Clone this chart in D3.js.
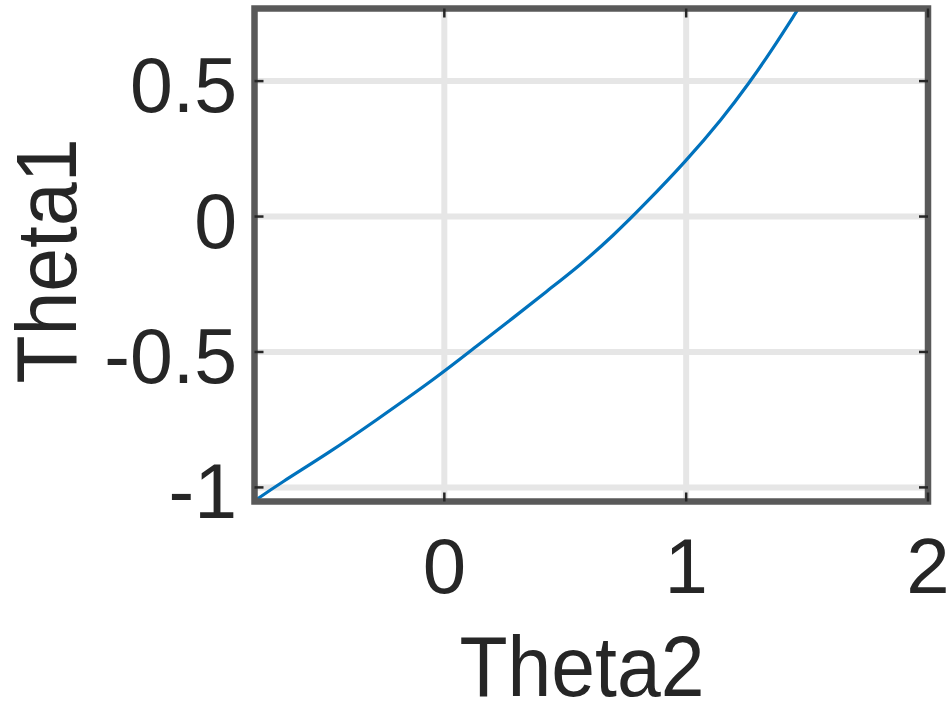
<!DOCTYPE html>
<html lang="en">
<head>
    <meta charset="UTF-8">
    <title>Theta1 vs Theta2</title>
    <style>
        body {
            margin: 0;
            background: white;
        }
        #chart text {
            font-family: "Liberation Sans", Arial, Helvetica, sans-serif;
            fill: #262626;
        }
    </style>
</head>
<body>
<div id="chart"></div>
<script src="https://cdn.jsdelivr.net/npm/d3@7"></script>
<script>
    // curve
    var theta2 = [-0.785, -0.68, -0.47, -0.29, -0.031, 0.134, 0.285, 0.423, 0.561, 0.699, 0.823, 1.0, 1.15, 1.26, 1.36, 1.46];
    var theta1 = [-1.05, -0.985, -0.868, -0.757, -0.594, -0.478, -0.374, -0.276, -0.18, -0.07, 0.04, 0.205, 0.362, 0.492, 0.622, 0.762];
    var xTicks = [0, 1, 2];
    var yTicks = [-1, -0.5, 0, 0.5];
    var xDomain = [-0.785, 2];
    var yDomain = [-1.052, 0.768];

    var width = 947, height = 704;
    // plot box (window.top is reserved, so no "top" here)
    var boxL = 254.5, boxR = 928, boxT = 8.5, boxB = 501.5;

    var svg = d3.select("#chart").append("svg")
        .attr("width", width).attr("height", height);

    var x = d3.scaleLinear().domain(xDomain).range([boxL, boxR]);
    var y = d3.scaleLinear().domain(yDomain).range([boxB, boxT]);

    // grid
    svg.append("g").selectAll("line")
        .data(xTicks.filter(function (t) { return x(t) < boxR - 2; }))
        .enter().append("line")
        .attr("x1", function (d) { return x(d); }).attr("x2", function (d) { return x(d); })
        .attr("y1", boxT).attr("y2", boxB)
        .style("stroke", "#e6e6e6").style("stroke-width", 6);
    svg.append("g").selectAll("line")
        .data(yTicks)
        .enter().append("line")
        .attr("y1", function (d) { return y(d); }).attr("y2", function (d) { return y(d); })
        .attr("x1", boxL).attr("x2", boxR)
        .style("stroke", "#e6e6e6").style("stroke-width", 6);

    // the curve
    var pts = theta2.map(function (v, i) { return [v, theta1[i]]; });
    var line = d3.line()
        .x(function (d) { return x(d[0]); })
        .y(function (d) { return y(d[1]); })
        .curve(d3.curveBasis);
    svg.append("path")
        .datum(pts)
        .attr("d", line)
        .style("fill", "none")
        .style("stroke", "#0072bd")
        .style("stroke-width", 3.2);

    // box
    svg.append("rect")
        .attr("x", boxL).attr("y", boxT)
        .attr("width", boxR - boxL).attr("height", boxB - boxT)
        .style("fill", "none").style("stroke", "#595959").style("stroke-width", 6.5);

    // inner tick marks
    var tickLen = 9;
    xTicks.forEach(function (t) {
        [[boxB, boxB - tickLen], [boxT, boxT + tickLen]].forEach(function (p) {
            svg.append("line")
                .attr("x1", x(t)).attr("x2", x(t)).attr("y1", p[0]).attr("y2", p[1])
                .style("stroke", "#262626").style("stroke-width", 2.5);
        });
    });
    yTicks.forEach(function (t) {
        [[boxL, boxL + tickLen], [boxR, boxR - tickLen]].forEach(function (p) {
            svg.append("line")
                .attr("y1", y(t)).attr("y2", y(t)).attr("x1", p[0]).attr("x2", p[1])
                .style("stroke", "#262626").style("stroke-width", 2.5);
        });
    });

    // tick labels
    svg.append("g").selectAll("text")
        .data(xTicks)
        .enter().append("text")
        .attr("x", function (d) { return x(d); })
        .attr("y", 593)
        .attr("text-anchor", "middle")
        .style("font-size", "78px")
        .text(function (d) { return d; });
    svg.append("g").selectAll("text")
        .data(yTicks)
        .enter().append("text")
        .attr("x", 237)
        .attr("y", function (d) { return y(d) + 31; })
        .attr("text-anchor", "end")
        .style("font-size", "77px")
        .text(function (d) { return d; });

    // axis labels
    svg.append("text")
        .attr("x", 582).attr("y", 696)
        .attr("text-anchor", "middle")
        .attr("textLength", 245).attr("lengthAdjust", "spacingAndGlyphs")
        .style("font-size", "86px")
        .text("Theta2");
    svg.append("text")
        .attr("transform", "translate(76,261)rotate(-90)")
        .attr("text-anchor", "middle")
        .attr("textLength", 245).attr("lengthAdjust", "spacingAndGlyphs")
        .style("font-size", "86px")
        .text("Theta1");
</script>
</body>
</html>
